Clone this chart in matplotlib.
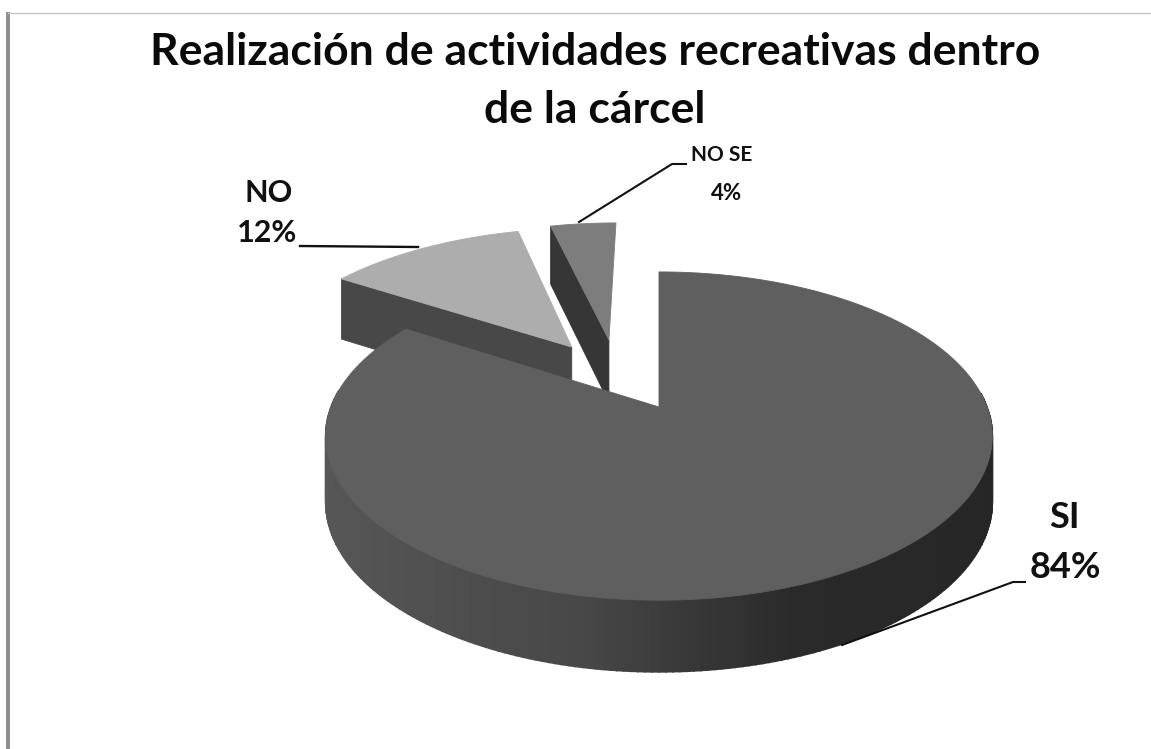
import numpy as np
from matplotlib import pyplot as plt
from matplotlib.patches import Polygon

# data
categories = ["SI", "NO", "NO SE"]
percent = [84, 12, 4]
title_lines = ["Realización de actividades recreativas dentro", "de la cárcel"]

# pie look, in image pixels
apex_x, apex_y = 659, 407
radius = 328
height = 159
persp = 0.177
depth = 65
offsets = {"SI": (0, 0), "NO": (-0.285, 0.404), "NO SE": (-0.165, 0.456)}
top_colors = {"SI": "#5f5f5f", "NO": "#adadad", "NO SE": "#7d7d7d"}
wall_colors = {"NO": "#484848", "NO SE": "#363636"}


def project(u, v):
    d = 1 + persp * v
    return apex_x + radius * u / d, apex_y - height * v / d


def drop(v):
    return depth / np.sqrt(1 + persp * v)


def rim_color(u):
    # shading of the outer side, lighter on the left and dark on the right
    g = np.interp(u, [-1, -0.2, 0.35, 1], [0x58, 0x48, 0x2a, 0x26])
    return (g / 255, g / 255, g / 255)


def draw_slice(ax, name, start, end):
    off = offsets[name]
    angles = np.radians(np.linspace(start, end, 300))
    u = off[0] + np.sin(angles)
    v = off[1] + np.cos(angles)
    x, y = project(u, v)
    ax0, ay0 = project(off[0], off[1])

    if name == "SI":
        # outer side, only the front half shows
        for i in range(len(u) - 1):
            if v[i] > 0.1:
                continue
            quad = [(x[i], y[i]), (x[i + 1], y[i + 1]),
                    (x[i + 1], y[i + 1] + drop(v[i + 1])), (x[i], y[i] + drop(v[i]))]
            col = rim_color(u[i])
            ax.add_patch(Polygon(quad, closed=True, fc=col, ec=col, lw=1.2, zorder=2))
    else:
        # cut face towards the viewer
        quad = [(x[0], y[0]), (ax0, ay0), (ax0, ay0 + drop(off[1])), (x[0], y[0] + drop(v[0]))]
        ax.add_patch(Polygon(quad, closed=True, fc=wall_colors[name], ec=wall_colors[name], lw=0.6, zorder=2))

    top = [(ax0, ay0)] + list(zip(x, y))
    ax.add_patch(Polygon(top, closed=True, fc=top_colors[name], ec=top_colors[name], lw=0.6, zorder=3))


fig = plt.figure(figsize=(11.51, 7.49), dpi=100)
ax = fig.add_axes([0, 0, 1, 1])
ax.set_xlim(0, 1151)
ax.set_ylim(749, 0)
ax.axis("off")

# frame remains on the left and top of the picture
ax.plot([8, 8], [12, 749], color="#8c8c8c", lw=2.8, zorder=1, solid_capstyle="butt")
ax.plot([8, 1151], [12.5, 12.5], color="#c4c4c4", lw=1.0, zorder=1)

# angles run clockwise from the top, SI starts there
edges = np.cumsum([0] + percent) * 3.6

# exploded slices go first, the big slice lies over their lower parts
draw_slice(ax, "NO SE", edges[2], edges[3])
draw_slice(ax, "NO", edges[1], edges[2])
draw_slice(ax, "SI", edges[0], edges[1])

# leader lines
ax.plot([300, 418], [246, 247], color="#111111", lw=1.7, zorder=4)
ax.plot([579, 672, 686], [222, 164, 164], color="#111111", lw=1.5, zorder=4)
ax.plot([842, 1013, 1025], [645, 582, 582], color="#111111", lw=1.5, zorder=4)

fam = ["Lato", "DejaVu Sans"]
ax.text(595, 52, title_lines[0], ha="center", va="center", fontsize=32, fontweight="bold",
        family=fam, color="#0a0a0a")
ax.text(595, 110, title_lines[1], ha="center", va="center", fontsize=32, fontweight="bold",
        family=fam, color="#0a0a0a")
ax.text(269, 193, categories[1], ha="center", va="center", fontsize=22, fontweight="bold", family=fam, color="#111111")
ax.text(267, 233, f"{percent[1]}%", ha="center", va="center", fontsize=22, fontweight="bold", family=fam, color="#111111")
ax.text(722, 155, categories[2], ha="center", va="center", fontsize=15, fontweight="bold", family=fam, color="#111111")
ax.text(727, 193, f"{percent[2]}%", ha="center", va="center", fontsize=16, fontweight="bold", family=fam, color="#111111")
ax.text(1064, 518, categories[0], ha="center", va="center", fontsize=26, fontweight="bold", family=fam, color="#111111")
ax.text(1065, 568, f"{percent[0]}%", ha="center", va="center", fontsize=26, fontweight="bold", family=fam, color="#111111")

fig.savefig("out.png", dpi=100)
